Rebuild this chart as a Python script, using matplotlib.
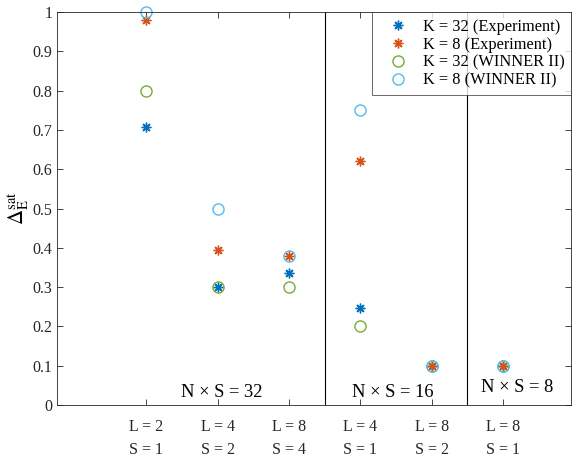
import matplotlib
matplotlib.use("Agg")
import matplotlib.pyplot as plt

# category positions and tick labels
positions = [1, 2, 3, 4, 5, 6]
tick_labels = ["L = 2\nS = 1", "L = 4\nS = 2", "L = 8\nS = 4",
               "L = 4\nS = 1", "L = 8\nS = 2", "L = 8\nS = 1"]

k32_exp = [0.708, 0.30, 0.337, 0.248, 0.10, 0.10]
k8_exp = [0.98, 0.395, 0.38, 0.62, 0.10, 0.10]
k32_win = [0.80, 0.30, 0.30, 0.20, 0.10, 0.10]
k8_win = [1.00, 0.50, 0.38, 0.75, 0.10, 0.10]

group_labels = ["N \u00d7 S = 32", "N \u00d7 S = 16", "N \u00d7 S = 8"]
group_x = [2.05, 4.45, 6.2]
group_y = [0.033, 0.033, 0.045]
dividers = [3.5, 5.5]

plt.rcParams["font.family"] = "Liberation Serif"
plt.rcParams["mathtext.fontset"] = "stix"

fig = plt.figure(figsize=(5.72, 4.62), dpi=100)
ax = fig.add_axes([0.0997, 0.1234, 0.8985, 0.8506])

star = (8, 2, 0)
ax.plot(positions, k32_exp, linestyle="none", marker=star, ms=7, mew=1.0,
        color="#0072BD", label="K = 32 (Experiment)", clip_on=False)
ax.plot(positions, k8_exp, linestyle="none", marker=star, ms=7, mew=1.0,
        color="#D95319", label="K = 8 (Experiment)", clip_on=False)
ax.plot(positions, k32_win, linestyle="none", marker="o", ms=8, mew=1.0,
        mfc="none", color="#77AC30", label="K = 32 (WINNER II)", clip_on=False)
ax.plot(positions, k8_win, linestyle="none", marker="o", ms=8, mew=1.0,
        mfc="none", color="#4DBEEE", label="K = 8 (WINNER II)", clip_on=False)

for d in dividers:
    ax.axvline(d, color="black", lw=0.8)

for txt, gx, gy in zip(group_labels, group_x, group_y):
    ax.text(gx, gy, txt, ha="center", va="center", fontsize=13.3)

ax.set_xlim(-0.25, 6.95)
ax.set_ylim(0, 1)
ax.set_xticks(positions)
ax.set_xticklabels(tick_labels, linespacing=1.6)
ax.set_yticks([i / 10 for i in range(11)])
ax.set_yticklabels(["0"] + [f"{i / 10:.1f}" for i in range(1, 10)] + ["1"])
ax.tick_params(direction="in", top=True, right=True, labelsize=11.5,
               length=4, width=0.6, colors="#262626")
ax.tick_params(axis="x", pad=10)
for s in ax.spines.values():
    s.set_linewidth(0.6)
    s.set_color("#262626")

ax.set_ylabel("$\\Delta_{\\mathrm{E}}^{\\mathrm{sat}}$", fontsize=15, labelpad=1)

leg = ax.legend(loc="upper right", fontsize=11.8, frameon=True, fancybox=False,
                edgecolor="#262626", borderaxespad=0.0, handletextpad=0.3,
                handlelength=2.4, labelspacing=0.12, borderpad=0.4)
leg.get_frame().set_linewidth(0.6)

fig.savefig("out.png", dpi=100)
